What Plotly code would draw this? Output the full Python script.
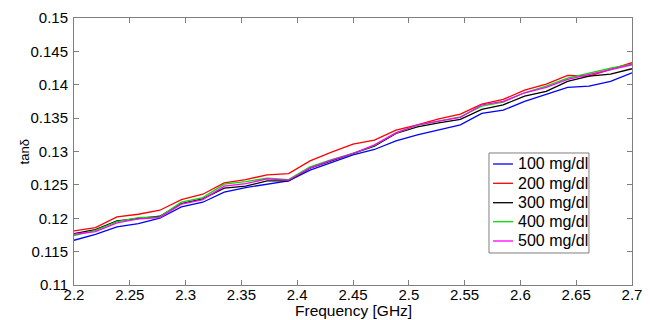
import plotly.graph_objects as go

freq = [2.2, 2.2192, 2.2385, 2.2577, 2.2769, 2.2962, 2.3154, 2.3346, 2.3538,
        2.3731, 2.3923, 2.4115, 2.4308, 2.45, 2.4692, 2.4885, 2.5077, 2.5269,
        2.5462, 2.5654, 2.5846, 2.6038, 2.6231, 2.6423, 2.6615, 2.6808, 2.7]

tan_100 = [0.1167, 0.1176, 0.1187, 0.1192, 0.1200, 0.1217, 0.1224, 0.1239, 0.1246,
           0.1251, 0.1256, 0.1272, 0.1284, 0.1295, 0.1303, 0.1316, 0.1325, 0.1333,
           0.1340, 0.1357, 0.1362, 0.1375, 0.1385, 0.1396, 0.1398, 0.1405, 0.1418]
tan_200 = [0.1181, 0.1186, 0.1202, 0.1206, 0.1212, 0.1228, 0.1236, 0.1253, 0.1258,
           0.1265, 0.1267, 0.1286, 0.1299, 0.1311, 0.1317, 0.1332, 0.1340, 0.1349,
           0.1356, 0.1371, 0.1378, 0.1392, 0.1401, 0.1414, 0.1413, 0.1423, 0.1433]
tan_300 = [0.1177, 0.1183, 0.1196, 0.1200, 0.1203, 0.1222, 0.1229, 0.1245, 0.1248,
           0.1256, 0.1256, 0.1275, 0.1286, 0.1297, 0.1308, 0.1327, 0.1337, 0.1343,
           0.1348, 0.1363, 0.1370, 0.1383, 0.1390, 0.1405, 0.1413, 0.1416, 0.1424]
tan_400 = [0.1174, 0.1182, 0.1195, 0.1201, 0.1202, 0.1224, 0.1231, 0.1251, 0.1255,
           0.1260, 0.1258, 0.1277, 0.1288, 0.1297, 0.1309, 0.1328, 0.1339, 0.1345,
           0.1352, 0.1368, 0.1374, 0.1388, 0.1398, 0.1410, 0.1418, 0.1425, 0.1431]
tan_500 = [0.1176, 0.1180, 0.1193, 0.1199, 0.1201, 0.1221, 0.1228, 0.1248, 0.1252,
           0.1259, 0.1257, 0.1275, 0.1287, 0.1297, 0.1310, 0.1328, 0.1340, 0.1345,
           0.1351, 0.1370, 0.1375, 0.1388, 0.1396, 0.1408, 0.1415, 0.1423, 0.1430]

series_names = ["100 mg/dl", "200 mg/dl", "300 mg/dl", "400 mg/dl", "500 mg/dl"]
series_values = [tan_100, tan_200, tan_300, tan_400, tan_500]
colors = ["#0000ff", "#ff0000", "#000000", "#00dd00", "#ff00ff"]

x_ticks = [2.2, 2.25, 2.3, 2.35, 2.4, 2.45, 2.5, 2.55, 2.6, 2.65, 2.7]
x_ticktext = ["2.2", "2.25", "2.3", "2.35", "2.4", "2.45", "2.5", "2.55", "2.6", "2.65", "2.7"]
y_ticks = [0.11, 0.115, 0.12, 0.125, 0.13, 0.135, 0.14, 0.145, 0.15]
y_ticktext = ["0.11", "0.115", "0.12", "0.125", "0.13", "0.135", "0.14", "0.145", "0.15"]

FONT = "Liberation Sans, Arial, sans-serif"

fig = go.Figure()
for name, vals, c in zip(series_names, series_values, colors):
    fig.add_trace(go.Scatter(x=freq, y=vals, mode="lines", name=name,
                             line=dict(color=c, width=1.3), showlegend=False))

axis_common = dict(showline=True, linecolor="#7f7f7f", linewidth=1, mirror="allticks",
                   ticks="inside", ticklen=5, tickcolor="#7f7f7f", showgrid=False,
                   zeroline=False, automargin=False,
                   tickfont=dict(family=FONT, size=15, color="black"))

# Legend box (MATLAB style), drawn in paper coordinates
legend_box = dict(x0=0.7437, x1=0.9229, y0=0.1199, y1=0.4944)
legend_line_x = (0.7509, 0.7867)
legend_text_x = 0.7921
legend_rows_y = [0.4532, 0.3809, 0.3082, 0.2371, 0.1648]

shapes = [dict(type="rect", xref="paper", yref="paper", **legend_box,
               line=dict(color="#7f7f7f", width=1), fillcolor="white", layer="above")]
annotations = []
for name, c, ry in zip(series_names, colors, legend_rows_y):
    shapes.append(dict(type="line", xref="paper", yref="paper",
                       x0=legend_line_x[0], x1=legend_line_x[1], y0=ry, y1=ry,
                       line=dict(color=c, width=1.3), layer="above"))
    annotations.append(dict(text=name, xref="paper", yref="paper", x=legend_text_x, y=ry,
                            xanchor="left", yanchor="middle", showarrow=False,
                            font=dict(family=FONT, size=16, color="black")))

annotations += [
    dict(text="Frequency [GHz]", xref="paper", yref="paper", x=0.5, y=-0.1311,
         xanchor="center", yanchor="bottom", showarrow=False, borderpad=0,
         font=dict(family=FONT, size=15.5, color="black")),
    dict(text="tanδ", xref="paper", yref="paper", x=-0.088, y=0.5,
         xanchor="center", yanchor="middle", showarrow=False, textangle=-90,
         font=dict(family=FONT, size=13, color="black")),
]

fig.update_layout(
    width=653, height=320,
    margin=dict(l=74, r=21, t=18, b=35),
    paper_bgcolor="white", plot_bgcolor="white",
    font=dict(family=FONT, color="black"),
    xaxis=dict(range=[2.2, 2.7], tickvals=x_ticks, ticktext=x_ticktext, ticklabelstandoff=-4,
               **axis_common),
    yaxis=dict(range=[0.11, 0.15], tickvals=y_ticks, ticktext=y_ticktext, ticklabelstandoff=2,
               **axis_common),
    showlegend=False,
    shapes=shapes,
    annotations=annotations,
)

fig.write_html("out.html", config={"displayModeBar": False},
               post_script="document.body.style.margin='0px';document.body.style.padding='0px';")
